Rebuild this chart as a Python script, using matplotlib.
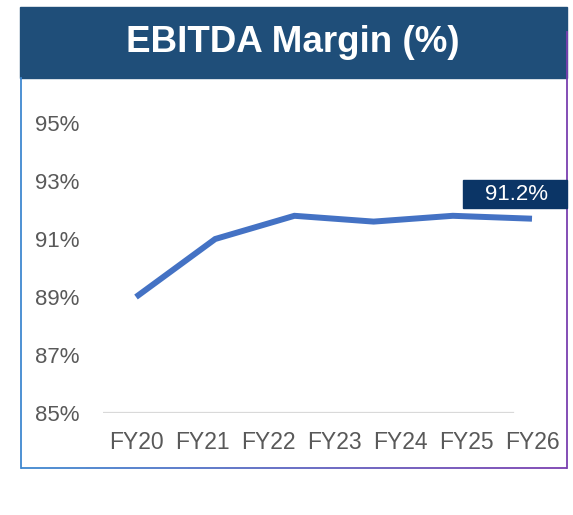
import numpy as np
import matplotlib
matplotlib.use("Agg")
import matplotlib.pyplot as plt
from matplotlib.patches import Rectangle
from matplotlib.collections import LineCollection
from matplotlib.colors import LinearSegmentedColormap

plt.rcParams["font.family"] = ["Liberation Sans", "DejaVu Sans"]

# Data
categories = ["FY20", "FY21", "FY22", "FY23", "FY24", "FY25", "FY26"]
margin = [89.0, 91.0, 91.8, 91.6, 91.8, 91.7]
y_ticks = [85, 87, 89, 91, 93, 95]
callout = "91.2%"
title = "EBITDA Margin (%)"

W, H = 573, 515
fig = plt.figure(figsize=(W / 100, H / 100), dpi=100)


def fx(px):
    return px / W


def fy(py):
    return 1 - py / H


# Title banner
fig.patches.append(Rectangle((fx(20), fy(78)), fx(547), 71 / H,
                             transform=fig.transFigure, color="#1f4e79", zorder=0))
fig.text(fx(293), fy(43), title, color="white", fontsize=26.5,
         fontweight="bold", ha="center", va="center")

# Outer frame: blue on the left, purple on the right, gradient along the bottom
fig.add_artist(plt.Line2D([fx(21), fx(21)], [fy(78), fy(468)],
                          transform=fig.transFigure, color="#3f88d0", lw=1.3))
fig.add_artist(plt.Line2D([fx(567), fx(567)], [fy(32), fy(468)],
                          transform=fig.transFigure, color="#7a3fb0", lw=1.3))
cmap = LinearSegmentedColormap.from_list("frame", ["#3f88d0", "#7a3fb0"])
xs = np.linspace(fx(21), fx(567), 60)
segs = [[(xs[i], fy(468)), (xs[i + 1], fy(468))] for i in range(len(xs) - 1)]
lc = LineCollection(segs, colors=cmap(np.linspace(0, 1, len(segs))),
                    linewidths=1.3, transform=fig.transFigure)
fig.add_artist(lc)

# Plot area
ax = fig.add_axes([fx(103), fy(413), fx(567 - 103), 290 / H])
ax.set_ylim(85, 95)
ax.set_xlim(-0.5, -0.5 + (567 - 103) / 66)
for s in ax.spines.values():
    s.set_visible(False)

ax.axhline(85, xmin=0, xmax=(513 - 103) / (567 - 103), color="#d9d9d9", lw=1.6)

line_x = np.linspace(0, len(categories) - 1, len(margin))
ax.plot(line_x, margin, color="#4472c4", lw=4.3, solid_joinstyle="miter",
        solid_capstyle="butt", clip_on=False)

ax.set_yticks(y_ticks)
ax.set_yticklabels([f"{v}%" for v in y_ticks])
ax.set_xticks(range(len(categories)))
ax.set_xticklabels(categories)
ax.tick_params(axis="y", length=0, pad=17, labelsize=16, labelcolor="#595959")
ax.tick_params(axis="x", length=0, pad=13, labelsize=16.5, labelcolor="#595959")

# Callout box
fig.patches.append(Rectangle((fx(463), fy(208)), fx(104), 28 / H,
                             transform=fig.transFigure, color="#0b3566", zorder=3))
fig.text(fx(516), fy(194), callout, color="white", fontsize=16,
         ha="center", va="center", zorder=4)

fig.savefig("out.png", dpi=100)
